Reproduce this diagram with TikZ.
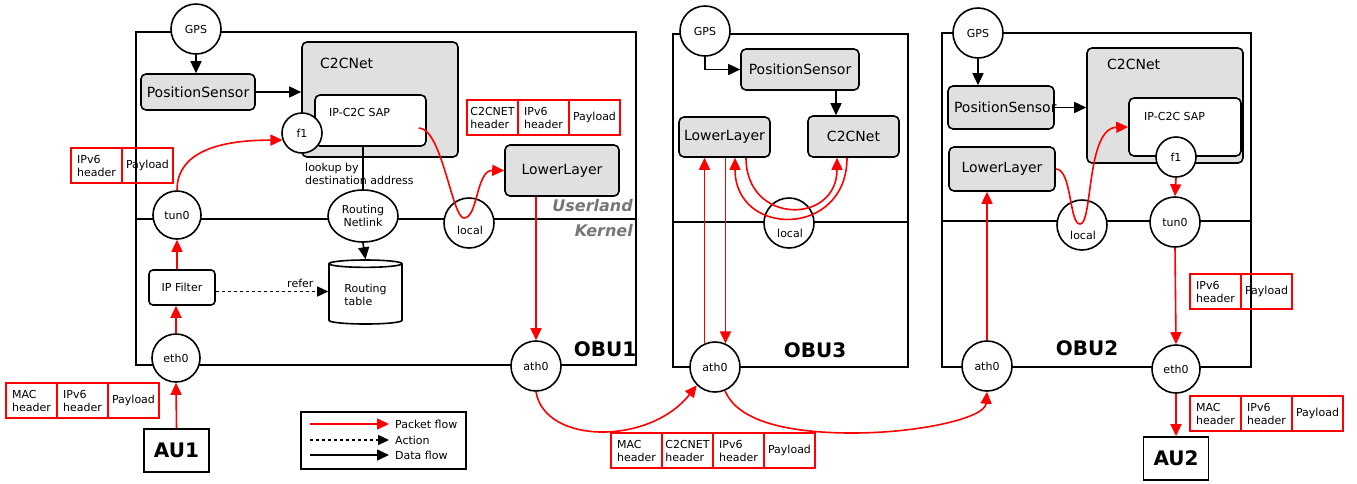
\documentclass[tikz,border=0pt]{standalone}
\usepackage{fontspec}
\setmainfont{DejaVu Sans}
\usetikzlibrary{arrows.meta,shapes.geometric,positioning}

\definecolor{grigio}{RGB}{224,224,224}
\definecolor{scritta}{RGB}{118,118,118}

\newcommand{\piccolo}{\fontsize{11}{13}\selectfont}
\newcommand{\medio}{\fontsize{14}{16}\selectfont}
\newcommand{\grande}{\fontsize{20}{22}\selectfont\bfseries}

\tikzset{
  cornice/.style={line width=1.6pt},
  blocco/.style={draw, line width=1.6pt, rounded corners=5pt, fill=grigio, font=\medio, inner sep=0pt},
  sap/.style={draw, line width=1.6pt, rounded corners=5pt, fill=white, inner sep=0pt},
  tondo/.style={draw, circle, line width=1.6pt, fill=white, minimum size=50pt, inner sep=0pt, font=\piccolo},
  unita/.style={draw, line width=1.8pt, fill=white, minimum width=65pt, minimum height=43pt, font=\grande},
  etich/.style={inner sep=0pt, font=\piccolo},
  cella/.style={draw=red, line width=1.5pt, minimum width=51pt, minimum height=35pt, inner xsep=3pt, inner ysep=0pt, align=left, font=\piccolo, outer sep=0pt},
  pacchetto/.style={red, line width=1.6pt, -{Triangle[length=12pt,width=11pt]}},
  dati/.style={line width=1.6pt, -{Triangle[length=12pt,width=11pt]}},
  azione/.style={line width=1.5pt, dashed, -{Triangle[length=11pt,width=10pt]}},
}

\begin{document}
\begin{tikzpicture}[x=1pt,y=-1pt]
\useasboundingbox (0,0) rectangle (1357,483);

% ---------------- OBU1
\draw[cornice] (136,32) rectangle (636,365);
\draw[cornice] (136,219) -- (636,219);

\node[tondo] (gps1) at (196,29) {GPS};
\node[blocco, minimum width=114pt, minimum height=36pt] (ps1) at (198,92) {PositionSensor};
\node[blocco, minimum width=156pt, minimum height=115pt] (c2c1) at (380,99.5) {};
\node[anchor=west, inner sep=0pt, font=\medio] (c2c1t) at (320,63) {C2CNet};
\node[sap, minimum width=111pt, minimum height=51pt] (sap1) at (370.5,120.5) {};
\node[etich, anchor=west] (sap1t) at (329,112) {IP-C2C SAP};
\node[tondo, minimum size=40pt] (f1a) at (302,133) {f1};
\node[etich, anchor=west, align=left] (cerca) at (305,174) {lookup by\\destination address};
\node[draw, ellipse, line width=1.6pt, fill=white, minimum width=70pt, minimum height=52pt,
      inner sep=0pt, align=center, font=\piccolo] (net1) at (363,216) {Routing\\Netlink};
\node[draw, cylinder, shape border rotate=90, aspect=0.15, line width=1.6pt, fill=white,
      minimum width=73pt, minimum height=64pt, align=left, font=\piccolo] (rt1) at (365.5,295) {Routing\\table};
\node[tondo, minimum size=48pt] (tun1) at (177,215) {tun0};
\node[draw, line width=1.6pt, rounded corners=4pt, fill=white, minimum width=66pt, minimum height=35pt,
      inner sep=0pt, font=\piccolo] (ipf1) at (182,287.5) {IP Filter};
\node[tondo, minimum size=48pt] (eth1) at (176,358) {eth0};
\node[unita] (au1) at (176.5,450.5) {AU1};
\node[blocco, minimum width=114pt, minimum height=51pt] (lower1) at (562,170.5) {LowerLayer};
\node[tondo] (loc1) at (469,223) {};
\node[etich] (loc1t) at (470,230) {local};
\node[tondo] (ath1) at (536,366) {ath0};

\node[anchor=east, inner sep=0pt, font=\fontsize{16}{18}\selectfont\bfseries\itshape, text=scritta] (user) at (633,206) {Userland};
\node[anchor=east, inner sep=0pt, font=\fontsize{16}{18}\selectfont\bfseries\itshape, text=scritta] (kern) at (633,231) {Kernel};
\node[font=\grande] (obu1) at (605,349) {OBU1};

\draw[dati] (gps1.south) -- (gps1.south |- ps1.north);
\draw[dati] (ps1.east) -- (ps1.east -| c2c1.west);
\draw[cornice] (net1.north |- sap1.south) -- (net1.north);
\draw[dati] (net1.south) -- (rt1.north);
\draw[azione] ([yshift=-4pt]ipf1.east) -- ([yshift=-4pt]ipf1.east -| rt1.west)
  node[etich, above left=3pt and 14pt] (rif) {refer};

\draw[pacchetto] (au1.north) -- (eth1.south);
\draw[pacchetto] (eth1.north) -- (eth1.north |- ipf1.south);
\draw[pacchetto] (tun1.south |- ipf1.north) -- (tun1.south);
\draw[pacchetto] (tun1.north) to[out=90,in=180] (f1a.200);
\coordinate (usc1) at ([shift={(-8pt,-7.5pt)}]sap1.east);
\draw[pacchetto] (usc1) .. controls (442,128) and (452,218) .. (464,218)
  .. controls (478,218) and (476,170) .. (lower1.west);
\draw[pacchetto] (lower1.south -| ath1.north) -- (ath1.north);

% ---------------- OBU3
\draw[cornice] (673,34) rectangle (908,367);
\draw[cornice] (673,222) -- (908,222);

\node[tondo] (gps3) at (705,31) {GPS};
\node[blocco, minimum width=118pt, minimum height=41pt] (ps3) at (800,69.5) {PositionSensor};
\node[blocco, minimum width=91pt, minimum height=41pt] (c2c3) at (853.5,136.5) {C2CNet};
\node[blocco, minimum width=91pt, minimum height=40pt] (lower3) at (724.5,137) {LowerLayer};
\node[tondo] (loc3) at (789,223) {};
\node[etich] (loc3t) at (790,233) {local};
\node[tondo] (ath3) at (715,367) {ath0};
\node[font=\grande] (obu3) at (815,350) {OBU3};

\draw[dati] (gps3.south) |- (ps3.west);
\draw[dati] ([xshift=36pt]ps3.south) -- ([xshift=36pt]ps3.south |- c2c3.north);
\draw[pacchetto] (ath3.114) -- (ath3.114 |- lower3.south);
\draw[pacchetto] (lower3.south -| ath3.66) -- (ath3.66);
\draw[pacchetto] ([xshift=-6.5pt]c2c3.south) .. controls (847,238) and (735,238) .. ([xshift=10.5pt]lower3.south);
\draw[pacchetto] ([xshift=21.5pt]lower3.south) .. controls (746,225) and (837,225) .. ([xshift=-16.5pt]c2c3.south);

% ---------------- OBU2
\draw[cornice] (942,33) rectangle (1251,367);
\draw[cornice] (942,221) -- (1251,221);

\node[tondo] (gps2) at (978,33) {GPS};
\node[blocco, minimum width=106pt, minimum height=43pt] (ps2) at (1001,107.5) {\makebox[94pt][l]{PositionSensor}};
\node[blocco, minimum width=156pt, minimum height=115pt] (c2c2) at (1165,105.5) {};
\node[anchor=west, inner sep=0pt, font=\medio] (c2c2t) at (1107,64) {C2CNet};
\node[sap, minimum width=112pt, minimum height=58pt] (sap2) at (1185,127) {};
\node[etich, anchor=west] (sap2t) at (1144,116) {IP-C2C SAP};
\node[tondo, minimum size=40pt] (f1b) at (1176,157) {f1};
\node[blocco, minimum width=106pt, minimum height=44pt] (lower2) at (1002,169) {LowerLayer};
\node[tondo] (loc2) at (1082,225) {};
\node[etich] (loc2t) at (1083,235) {local};
\node[tondo] (tun2) at (1175,222) {tun0};
\node[tondo] (ath2) at (987,366) {ath0};
\node[tondo, minimum size=48pt] (eth2) at (1176,369) {eth0};
\node[unita] (au2) at (1176,458.5) {AU2};
\node[font=\grande] (obu2) at (1087,348) {OBU2};

\draw[dati] (gps2.south) -- (gps2.south |- ps2.north);
\draw[dati] (ps2.east) -- (ps2.east -| c2c2.west);
\draw[pacchetto] (ath2.north) -- (ath2.north |- lower2.south);
\draw[pacchetto] (lower2.east) .. controls (1072,169) and (1069,224) .. (1080,224)
  .. controls (1093,224) and (1086,128) .. (sap2.west);
\draw[pacchetto] (f1b.south) -- (tun2.north);
\draw[pacchetto] (tun2.south) -- (eth2.north);
\draw[pacchetto] (eth2.south) -- (au2.north);

% ---------------- radio link
\draw[pacchetto] (ath1.south) .. controls (545,445) and (650,445) .. (ath3.225);
\draw[pacchetto] (ath3.-67) .. controls (740,428) and (810,433) .. (852,433)
  .. controls (920,433) and (985,418) .. (ath2.south);

% ---------------- packets
\node[cella, anchor=north west] (pa1) at (71,148) {IPv6\\header};
\node[cella, right=0pt of pa1] (pa2) {Payload};

\node[cella, anchor=north west] (pb1) at (6,383) {MAC\\header};
\node[cella, right=0pt of pb1] (pb2) {IPv6\\header};
\node[cella, right=0pt of pb2] (pb3) {Payload};

\node[cella, anchor=north west] (pc1) at (467,100) {C2CNET\\header};
\node[cella, right=0pt of pc1] (pc2) {IPv6\\header};
\node[cella, right=0pt of pc2] (pc3) {Payload};

\node[cella, anchor=north west] (pd1) at (611,433) {MAC\\header};
\node[cella, right=0pt of pd1] (pd2) {C2CNET\\header};
\node[cella, right=0pt of pd2] (pd3) {IPv6\\header};
\node[cella, right=0pt of pd3] (pd4) {Payload};

\node[cella, anchor=north west] (pe1) at (1190,274) {IPv6\\header};
\node[cella, right=0pt of pe1] (pe2) {Payload};

\node[cella, anchor=north west] (pf1) at (1190,396) {MAC\\header};
\node[cella, right=0pt of pf1] (pf2) {IPv6\\header};
\node[cella, right=0pt of pf2] (pf3) {Payload};

% ---------------- legend
\draw[cornice] (301,412) rectangle (466,469);
\node[etich, anchor=west] (leg1) at (395,424) {Packet flow};
\node[etich, anchor=west] (leg2) at (395,440) {Action};
\node[etich, anchor=west] (leg3) at (395,455) {Data flow};
\draw[pacchetto] ([xshift=-85pt]leg1.west) -- ([xshift=-6pt]leg1.west);
\draw[azione] ([xshift=-85pt]leg2.west) -- ([xshift=-6pt]leg2.west);
\draw[dati] ([xshift=-85pt]leg3.west) -- ([xshift=-6pt]leg3.west);

\end{tikzpicture}
\end{document}
